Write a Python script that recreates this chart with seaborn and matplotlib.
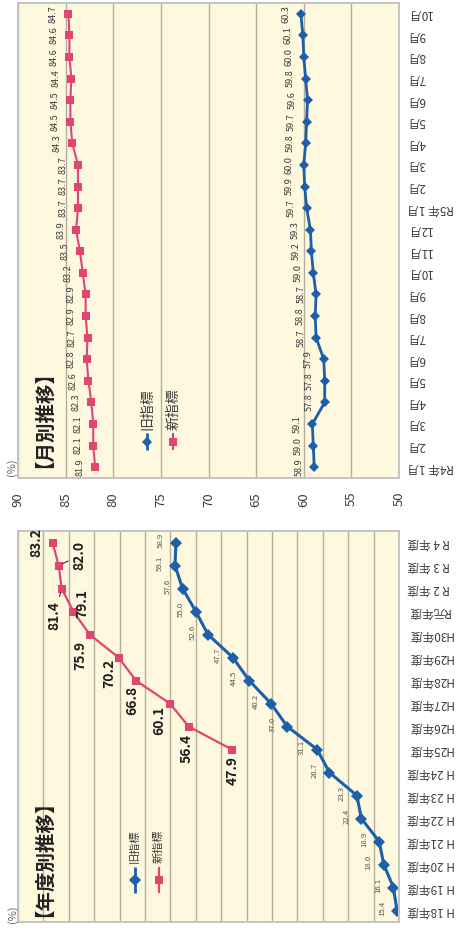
import matplotlib
matplotlib.use("Agg")
import matplotlib.pyplot as plt
import pandas as pd
import seaborn as sns

# ---- 年度別推移 ----
fiscal_years = ["H 18年度", "H 19年度", "H 20年度", "H 21年度", "H 22年度", "H 23年度",
                "H 24年度", "H25年度", "H26年度", "H27年度", "H28年度", "H29年度",
                "H30年度", "R元年度", "R 2 年度", "R 3 年度", "R 4 年度"]
old_yearly = [15.4, 16.1, 18.0, 18.9, 22.4, 23.3, 28.7, 31.1, 37.0,
              40.2, 44.5, 47.7, 52.6, 55.0, 57.6, 59.1, 58.9]
new_yearly_years = ["H25年度", "H26年度", "H27年度", "H28年度", "H29年度",
                    "H30年度", "R元年度", "R 2 年度", "R 3 年度", "R 4 年度"]
new_yearly = [47.9, 56.4, 60.1, 66.8, 70.2, 75.9, 79.1, 81.4, 82.0, 83.2]
yearly_ticks = [90, 85, 80, 75, 70, 65, 60, 55, 50, 45, 40, 35, 30, 25, 20, 15]

# ---- 月別推移 ----
months = ["R4年 1月", "2月", "3月", "4月", "5月", "6月", "7月", "8月", "9月", "10月",
          "11月", "12月", "R5年 1月", "2月", "3月", "4月", "5月", "6月", "7月", "8月",
          "9月", "10月"]
old_monthly = [58.9, 59.0, 59.1, 57.8, 57.8, 57.9, 58.7, 58.8, 58.7, 59.0, 59.2,
               59.3, 59.7, 59.9, 60.0, 59.8, 59.7, 59.6, 59.8, 60.0, 60.1, 60.3]
new_monthly = [81.9, 82.1, 82.1, 82.3, 82.6, 82.8, 82.7, 82.9, 82.9, 83.2, 83.5,
               83.9, 83.7, 83.7, 83.7, 84.3, 84.5, 84.5, 84.4, 84.6, 84.6, 84.7]
monthly_ticks = [90, 85, 80, 75, 70, 65, 60, 55, 50]

series_names = ["旧指標", "新指標"]

BLUE = "#1d5fa8"
PINK = "#e0466f"
CREAM = "#fdf8de"
GRID = "#b5ae9a"
FRAME = "#c4c4c4"
TEXT = "#3c3c3c"

sns.set_theme(style="white")
plt.rcParams["font.family"] = ["Noto Sans CJK JP", "DejaVu Sans"]

fig = plt.figure(figsize=(4.59, 9.35), dpi=100)
W, H = 459, 935


def add_axes_px(x0, y0, x1, y1):
    return fig.add_axes([x0 / W, 1 - y1 / H, (x1 - x0) / W, (y1 - y0) / H])


ax_m = add_axes_px(18, 3, 399, 478)
ax_y = add_axes_px(18, 531, 399, 922)


def draw_series(ax, values, positions, color, marker, ms, lw):
    df = pd.DataFrame({"値": values, "pos": positions})
    sns.lineplot(data=df, x="値", y="pos", orient="y", sort=False, estimator=None,
                 color=color, marker=marker, markersize=ms, markeredgewidth=0,
                 lw=lw, ax=ax, legend=False)
    return df


def style_axes(ax, ticks, cats, n):
    ax.set_facecolor(CREAM)
    ax.set_xlim(ticks[0], ticks[-1])
    ax.set_ylim(-0.5, n - 0.5)
    ax.set_xticks(ticks)
    ax.set_yticks(range(n))
    ax.set_yticklabels(cats)
    ax.grid(axis="x", color=GRID, lw=1.0)
    ax.grid(axis="y", visible=False)
    ax.set_axisbelow(True)
    for s in ax.spines.values():
        s.set_color(FRAME)
        s.set_linewidth(1.4)
    ax.tick_params(axis="both", length=0)
    ax.tick_params(axis="y", left=False, right=False, labelleft=False,
                   labelright=True, labelrotation=180, pad=6,
                   labelsize=8.5, labelcolor=TEXT)
    for lbl in ax.get_yticklabels():
        lbl.set_ha("left")
        lbl.set_va("center")
    ax.set_xlabel("")
    ax.set_ylabel("")


def legend_handle(ax, x, y, half, color, marker, ms, lw, label, fs, text_gap):
    ax.plot([x, x], [y - half, y + half], color=color, lw=lw, transform=ax.transAxes,
            solid_capstyle="butt", clip_on=False)
    ax.plot([x], [y], color=color, marker=marker, markersize=ms, markeredgewidth=0,
            transform=ax.transAxes, clip_on=False)
    ax.text(x, y + half + text_gap, label, rotation=90, ha="center", va="bottom",
            fontsize=fs, color=TEXT, transform=ax.transAxes)


# ---------------- 月別推移 ----------------
nm = len(months)
pos_m = list(range(nm))
d_old_m = draw_series(ax_m, old_monthly, pos_m, BLUE, "D", 5.0, 2.0)
d_new_m = draw_series(ax_m, new_monthly, pos_m, PINK, "s", 5.3, 1.5)
style_axes(ax_m, monthly_ticks, months, nm)
ax_m.tick_params(axis="x", labelbottom=True, labelrotation=90, pad=10,
                 labelsize=9.5, labelcolor=TEXT)
for df in (d_old_m, d_new_m):
    for v, p in zip(df["値"], df["pos"]):
        ax_m.annotate(f"{v:.1f}", (v, p), xytext=(-15, 0), textcoords="offset pixels",
                      rotation=90, ha="center", va="center", fontsize=6.6, color=TEXT)
ax_m.text(0.042, 0.022, "【月別推移】", rotation=90, ha="center", va="bottom",
          fontsize=14, fontweight="bold", color="#222222", transform=ax_m.transAxes)
legend_handle(ax_m, 0.339, 0.076, 0.018, BLUE, "D", 5.0, 2.0, series_names[0], 10, 0.006)
legend_handle(ax_m, 0.407, 0.076, 0.018, PINK, "s", 5.3, 1.5, series_names[1], 10, 0.006)

# ---------------- 年度別推移 ----------------
ny = len(fiscal_years)
pos_old_y = [fiscal_years.index(c) for c in fiscal_years]
pos_new_y = [fiscal_years.index(c) for c in new_yearly_years]
d_old_y = draw_series(ax_y, old_yearly, pos_old_y, BLUE, "D", 6.3, 2.2)
d_new_y = draw_series(ax_y, new_yearly, pos_new_y, PINK, "s", 6.0, 1.6)
style_axes(ax_y, yearly_ticks, fiscal_years, ny)
ax_y.tick_params(axis="x", labelbottom=False)

for v, p in zip(d_old_y["値"], d_old_y["pos"]):
    ax_y.annotate(f"{v:.1f}", (v, p), xytext=(-15, 2), textcoords="offset pixels",
                  rotation=90, ha="center", va="center", fontsize=5.6, color="#555555")

# label placement for the new index (pixel offsets, leader flag)
new_label_offsets = [(1, -21, False), (-2, -22, False), (-11, -17, False), (-4, -20, False),
                     (-9, -16, False), (-9, -21, False), (9, 8, False), (-7, -27, True),
                     (21, 10, True), (-16, 0, False)]
for (v, p), (dx, dy, leader) in zip(zip(d_new_y["値"], d_new_y["pos"]), new_label_offsets):
    arrow = dict(arrowstyle="-", color="#333333", lw=0.8, shrinkA=1, shrinkB=3) if leader else None
    ax_y.annotate(f"{v:.1f}", (v, p), xytext=(dx, dy), textcoords="offset pixels",
                  rotation=90, ha="center", va="center", fontsize=10,
                  fontweight="bold", color="#1e1e1e", arrowprops=arrow)

ax_y.text(0.042, 0.012, "【年度別推移】", rotation=90, ha="center", va="bottom",
          fontsize=14, fontweight="bold", color="#222222", transform=ax_y.transAxes)
legend_handle(ax_y, 0.307, 0.107, 0.033, BLUE, "D", 6.0, 2.0, series_names[0], 8, 0.010)
legend_handle(ax_y, 0.370, 0.107, 0.033, PINK, "s", 6.0, 1.6, series_names[1], 8, 0.010)

# unit labels
fig.text(12 / W, 1 - 467 / H, "(%)", rotation=90, ha="center", va="center",
         fontsize=8, color="#666666")
fig.text(13 / W, 1 - 914 / H, "(%)", rotation=90, ha="center", va="center",
         fontsize=8, color="#666666")

fig.savefig("out.png", dpi=100, facecolor="white")
